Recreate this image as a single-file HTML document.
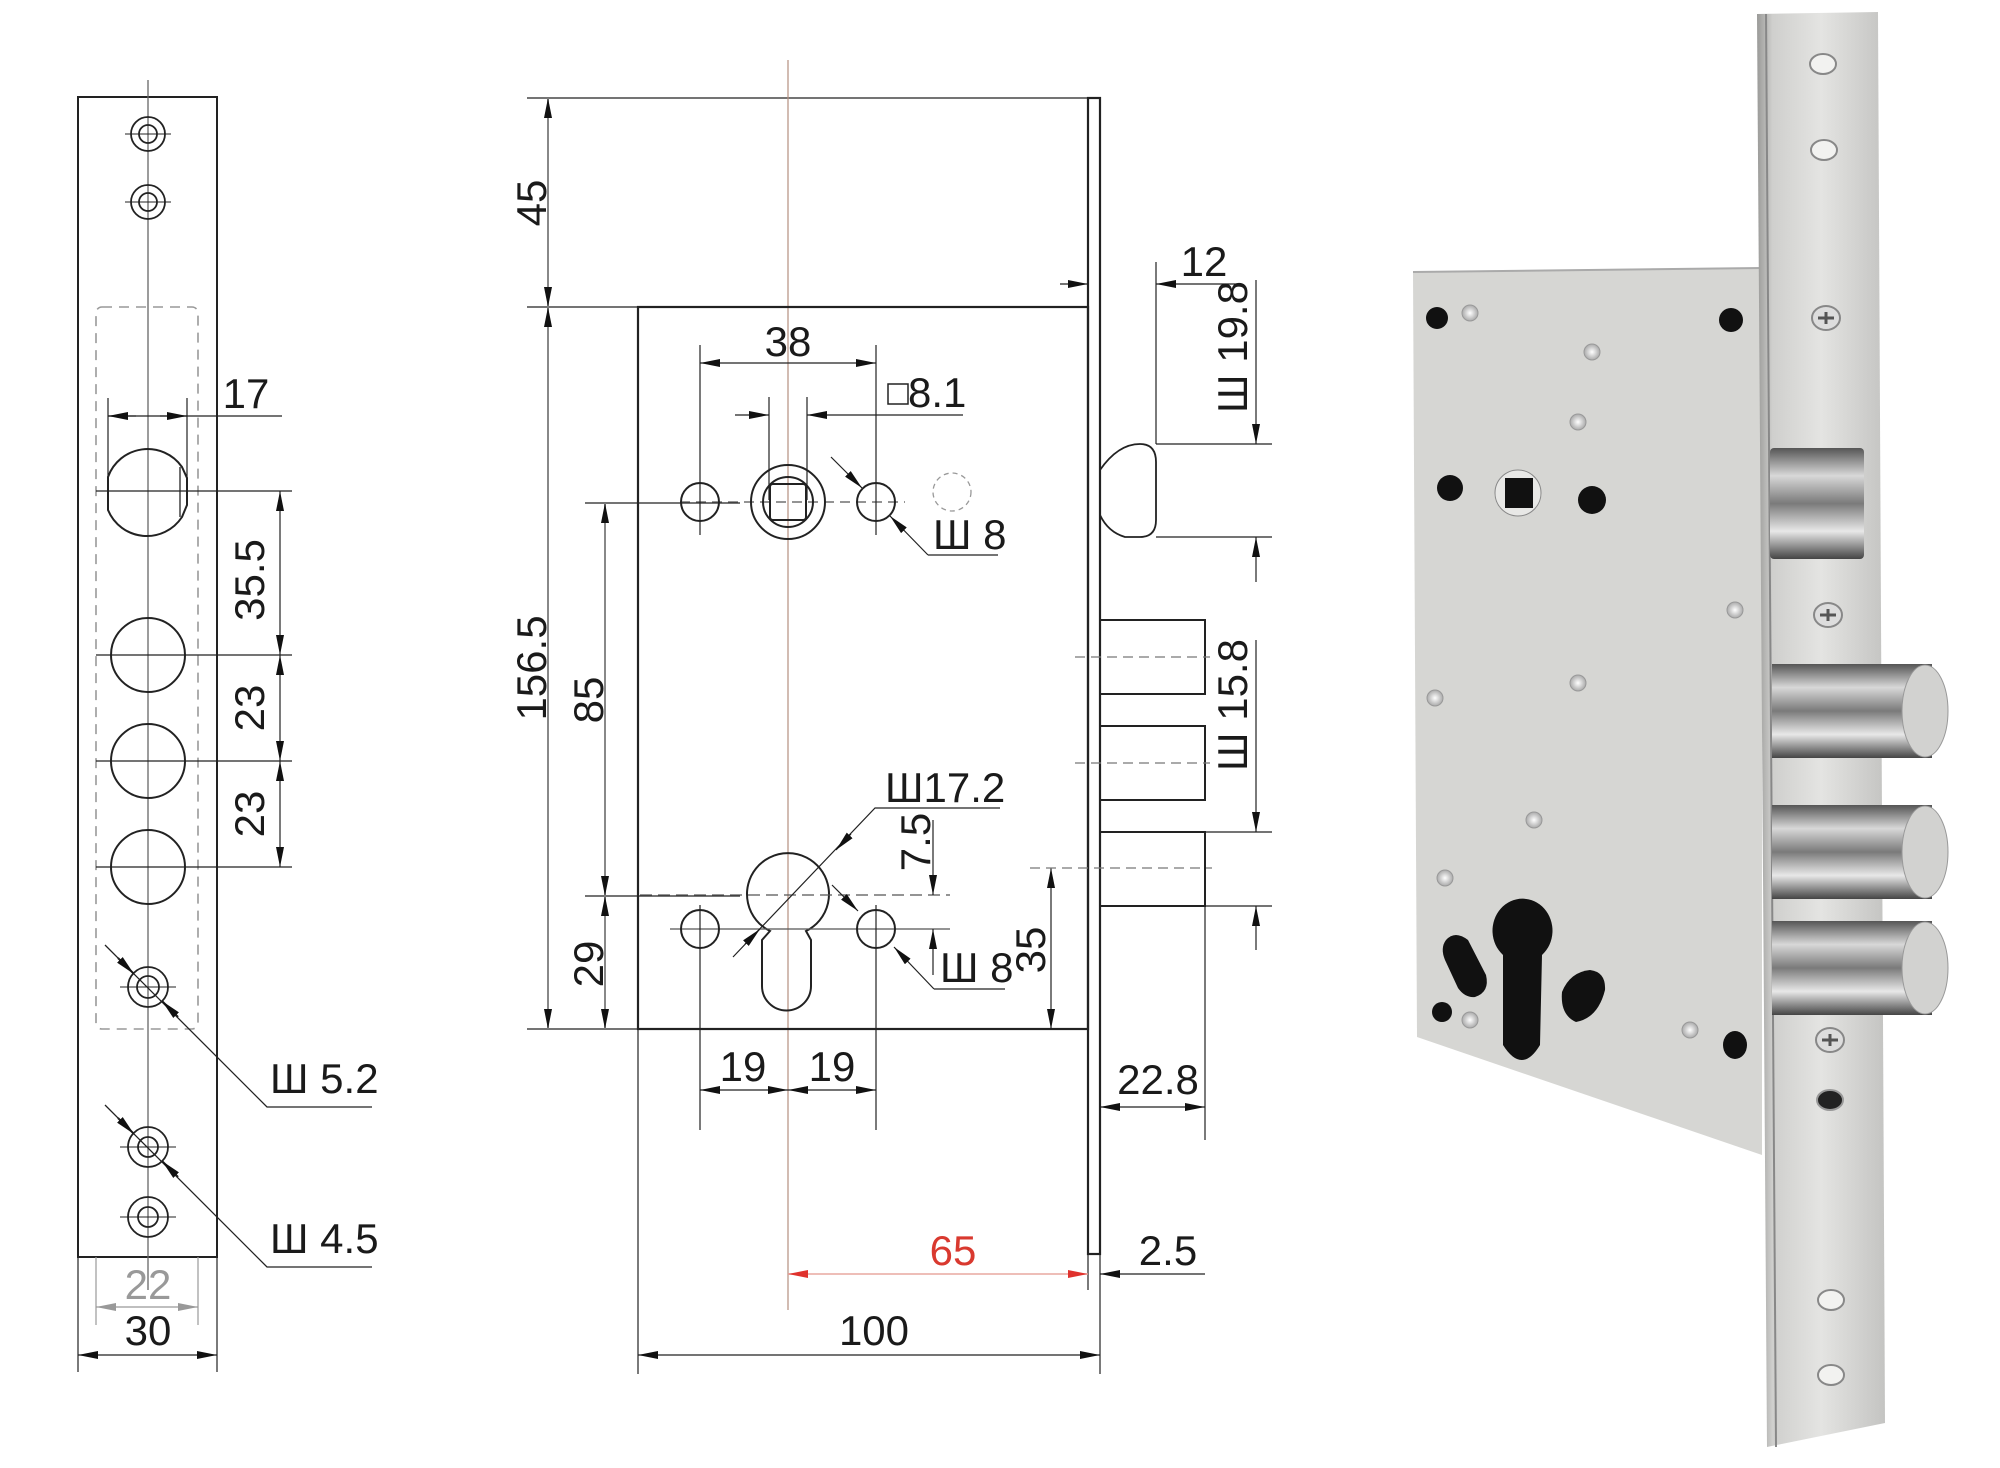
<!DOCTYPE html>
<html><head><meta charset="utf-8"><style>
html,body{margin:0;padding:0;background:#fff;}
svg{display:block;}
text{font-family:"Liberation Sans",sans-serif;font-size:42px;fill:#1a1a1a;}
</style></head><body>
<svg width="2000" height="1468" viewBox="0 0 2000 1468" xmlns="http://www.w3.org/2000/svg">
<defs>
<marker id="a" viewBox="0 0 20 8" refX="20" refY="4" markerWidth="20" markerHeight="8" markerUnits="userSpaceOnUse" orient="auto-start-reverse"><path d="M0,0L20,4L0,8z" fill="#111"/></marker>
<marker id="r" viewBox="0 0 20 8" refX="20" refY="4" markerWidth="20" markerHeight="8" markerUnits="userSpaceOnUse" orient="auto-start-reverse"><path d="M0,0L20,4L0,8z" fill="#e0322d"/></marker>
<marker id="g" viewBox="0 0 20 8" refX="20" refY="4" markerWidth="20" markerHeight="8" markerUnits="userSpaceOnUse" orient="auto-start-reverse"><path d="M0,0L20,4L0,8z" fill="#999"/></marker>
<linearGradient id="fp" x1="0" x2="1"><stop offset="0" stop-color="#9a9a98"/><stop offset="0.12" stop-color="#cfcfcd"/><stop offset="0.5" stop-color="#e4e4e2"/><stop offset="1" stop-color="#c4c4c2"/></linearGradient>
<linearGradient id="cyl" x1="0" y1="0" x2="0" y2="1"><stop offset="0" stop-color="#555"/><stop offset="0.25" stop-color="#d8d8d8"/><stop offset="0.5" stop-color="#7a7a7a"/><stop offset="0.75" stop-color="#e8e8e8"/><stop offset="1" stop-color="#444"/></linearGradient>
<radialGradient id="dot"><stop offset="0" stop-color="#fff"/><stop offset="1" stop-color="#aaa"/></radialGradient>
</defs>

<g stroke="#222" stroke-width="2" fill="none">
<!-- LEFT FACEPLATE -->
<rect x="78" y="97" width="139" height="1160"/>
<line x1="148" y1="80" x2="148" y2="1290" stroke="#666" stroke-width="1.3"/>
<rect x="96" y="307" width="102" height="722" rx="6" stroke="#999" stroke-dasharray="10,7" stroke-width="1.6"/>
<g stroke-width="1.8">
<circle cx="148" cy="134" r="17"/><circle cx="148" cy="134" r="9"/><line x1="125" y1="134" x2="171" y2="134" stroke-width="1"/>
<circle cx="148" cy="202" r="17"/><circle cx="148" cy="202" r="9"/><line x1="125" y1="202" x2="171" y2="202" stroke-width="1"/>
<circle cx="148" cy="987" r="20"/><circle cx="148" cy="987" r="11"/><line x1="120" y1="987" x2="176" y2="987" stroke-width="1"/>
<circle cx="148" cy="1147" r="20"/><circle cx="148" cy="1147" r="10"/><line x1="120" y1="1147" x2="176" y2="1147" stroke-width="1"/>
<circle cx="148" cy="1217" r="20"/><circle cx="148" cy="1217" r="10"/><line x1="120" y1="1217" x2="176" y2="1217" stroke-width="1"/>
</g>
<!-- latch -->
<path d="M108,477 A42,42 0 0 1 182,467 L187,478 L187,505 L182,517 A42,42 0 0 1 108,510 Z"/>
<line x1="180" y1="467" x2="180" y2="517" stroke-width="1.3"/>
<circle cx="148" cy="655" r="37"/><circle cx="148" cy="761" r="37"/><circle cx="148" cy="867" r="37"/>
<g stroke-width="1.2">
<line x1="96" y1="491" x2="292" y2="491"/><line x1="96" y1="655" x2="292" y2="655"/><line x1="96" y1="761" x2="292" y2="761"/><line x1="96" y1="867" x2="292" y2="867"/>
<line x1="108" y1="398" x2="108" y2="500"/><line x1="187" y1="398" x2="187" y2="500"/>
<line x1="108" y1="416" x2="282" y2="416"/>
</g>
<line x1="108" y1="416" x2="136" y2="416" marker-start="url(#a)" stroke-width="1.2"/>
<line x1="160" y1="416" x2="187" y2="416" marker-end="url(#a)" stroke-width="1.2"/>
<line x1="280" y1="491" x2="280" y2="655" marker-start="url(#a)" marker-end="url(#a)" stroke-width="1.2"/>
<line x1="280" y1="655" x2="280" y2="761" marker-start="url(#a)" marker-end="url(#a)" stroke-width="1.2"/>
<line x1="280" y1="761" x2="280" y2="867" marker-start="url(#a)" marker-end="url(#a)" stroke-width="1.2"/>
<!-- leaders -->
<polyline points="105,945 267,1107 372,1107" stroke-width="1.3"/>
<line x1="118" y1="958" x2="134" y2="974" marker-end="url(#a)"/>
<line x1="178" y1="1017" x2="162" y2="1001" marker-end="url(#a)"/>
<polyline points="105,1105 267,1267 372,1267" stroke-width="1.3"/>
<line x1="118" y1="1118" x2="134" y2="1134" marker-end="url(#a)"/>
<line x1="178" y1="1177" x2="162" y2="1161" marker-end="url(#a)"/>
<line x1="78" y1="1257" x2="78" y2="1372" stroke-width="1.2"/><line x1="217" y1="1257" x2="217" y2="1372" stroke-width="1.2"/>
<line x1="96" y1="1257" x2="96" y2="1325" stroke="#999" stroke-width="1.2"/><line x1="198" y1="1257" x2="198" y2="1325" stroke="#999" stroke-width="1.2"/>
<line x1="96" y1="1307" x2="198" y2="1307" stroke="#999" stroke-width="1.2" marker-start="url(#g)" marker-end="url(#g)"/>
<line x1="78" y1="1355" x2="217" y2="1355" stroke-width="1.2" marker-start="url(#a)" marker-end="url(#a)"/>

<!-- MIDDLE DRAWING -->
<g stroke-width="1.2">
<line x1="527" y1="98" x2="1088" y2="98"/>
<line x1="527" y1="307" x2="638" y2="307"/>
<line x1="527" y1="1029" x2="638" y2="1029"/>
<line x1="585" y1="503" x2="740" y2="503"/>
<line x1="585" y1="896" x2="740" y2="896"/>
</g>
<line x1="788" y1="60" x2="788" y2="1310" stroke="#b59080" stroke-width="1.2"/>
<rect x="638" y="307" width="450" height="722" stroke-width="2.2"/>
<rect x="1088" y="98" width="12" height="1156" stroke-width="2.2"/>
<line x1="548" y1="98" x2="548" y2="307" stroke="#888" marker-start="url(#a)" marker-end="url(#a)"/>
<line x1="548" y1="307" x2="548" y2="1029" stroke="#888" marker-start="url(#a)" marker-end="url(#a)"/>
<line x1="605" y1="503" x2="605" y2="896" stroke="#888" marker-start="url(#a)" marker-end="url(#a)"/>
<line x1="605" y1="896" x2="605" y2="1029" stroke="#888" marker-start="url(#a)" marker-end="url(#a)"/>
<!-- top row -->
<line x1="680" y1="502" x2="905" y2="502" stroke-dasharray="10,6" stroke-width="1.2" stroke="#555"/>
<circle cx="700" cy="502" r="19"/><circle cx="876" cy="502" r="19"/>
<circle cx="788" cy="502" r="37"/><circle cx="788" cy="502" r="25"/>
<rect x="770" y="484" width="36" height="36" rx="3"/>
<circle cx="952" cy="492" r="19" stroke="#999" stroke-dasharray="5,4" stroke-width="1.3"/>
<g stroke-width="1.2">
<line x1="700" y1="345" x2="700" y2="535"/><line x1="876" y1="345" x2="876" y2="535"/>
<line x1="769" y1="397" x2="769" y2="500"/><line x1="807" y1="397" x2="807" y2="500"/>
<line x1="735" y1="415" x2="769" y2="415" marker-end="url(#a)"/>
<line x1="963" y1="415" x2="807" y2="415" marker-end="url(#a)"/>
<line x1="700" y1="363" x2="876" y2="363" marker-start="url(#a)" marker-end="url(#a)"/>
<line x1="831" y1="457" x2="862" y2="488" marker-end="url(#a)"/>
<polyline points="928,555 998,555"/>
<line x1="928" y1="555" x2="890" y2="516" marker-end="url(#a)"/>
</g>
<rect x="888" y="384" width="20" height="20" stroke-width="1.5"/>
<!-- cylinder -->
<path d="M770,931 A41,41 0 1 1 806,931 L811,940 L811,986 A24.5,24.5 0 0 1 762,986 L762,940 Z"/>
<g stroke-width="1.2">
<line x1="640" y1="895" x2="950" y2="895" stroke-dasharray="12,6" stroke="#555"/>
<line x1="670" y1="929" x2="950" y2="929" stroke="#555"/>
<line x1="700" y1="905" x2="700" y2="1130"/><line x1="876" y1="905" x2="876" y2="1130"/>
</g>
<circle cx="700" cy="929" r="19"/><circle cx="876" cy="929" r="19"/>
<g stroke-width="1.2">
<polyline points="1000,808 875,808 733,957"/>
<line x1="745" y1="944" x2="760" y2="929" marker-end="url(#a)"/>
<line x1="832" y1="885" x2="858" y2="911" marker-end="url(#a)"/>
<polyline points="934,989 1005,989"/>
<line x1="934" y1="989" x2="894" y2="947" marker-end="url(#a)"/>
<line x1="851" y1="834" x2="836" y2="850" marker-end="url(#a)"/>
<line x1="933" y1="820" x2="933" y2="895" marker-end="url(#a)"/>
<line x1="933" y1="975" x2="933" y2="929" marker-end="url(#a)"/>
<line x1="1051" y1="868" x2="1051" y2="1029" marker-start="url(#a)" marker-end="url(#a)"/>
<line x1="700" y1="1090" x2="788" y2="1090" marker-start="url(#a)" marker-end="url(#a)"/>
<line x1="788" y1="1090" x2="876" y2="1090" marker-start="url(#a)" marker-end="url(#a)"/>
</g>
<!-- right parts -->
<path d="M1100,470 Q1118,444 1140,444 Q1156,444 1156,462 L1156,520 Q1156,537 1140,537 L1125,537 Q1108,532 1100,515" stroke-width="1.8"/>
<rect x="1100" y="620" width="105" height="74"/>
<rect x="1100" y="726" width="105" height="74"/>
<rect x="1100" y="832" width="105" height="74"/>
<g stroke-width="1.2" stroke="#777" stroke-dasharray="10,6">
<line x1="1075" y1="657" x2="1210" y2="657"/><line x1="1075" y1="763" x2="1210" y2="763"/><line x1="1030" y1="868" x2="1212" y2="868"/>
</g>
<g stroke-width="1.2">
<line x1="1156" y1="262" x2="1156" y2="444"/>
<line x1="1060" y1="284" x2="1088" y2="284" marker-end="url(#a)"/>
<line x1="1240" y1="284" x2="1156" y2="284" marker-end="url(#a)"/>
<line x1="1156" y1="444" x2="1272" y2="444"/><line x1="1156" y1="537" x2="1272" y2="537"/>
<line x1="1256" y1="280" x2="1256" y2="444" marker-end="url(#a)"/>
<line x1="1256" y1="582" x2="1256" y2="537" marker-end="url(#a)"/>
<line x1="1205" y1="832" x2="1272" y2="832"/><line x1="1205" y1="906" x2="1272" y2="906"/>
<line x1="1256" y1="640" x2="1256" y2="832" marker-end="url(#a)"/>
<line x1="1256" y1="950" x2="1256" y2="906" marker-end="url(#a)"/>
<line x1="1205" y1="906" x2="1205" y2="1140"/>
<line x1="1100" y1="1107" x2="1205" y2="1107" marker-start="url(#a)" marker-end="url(#a)"/>
<line x1="1100" y1="1254" x2="1100" y2="1374"/>
<line x1="1088" y1="1254" x2="1088" y2="1290"/>
<line x1="638" y1="1029" x2="638" y2="1374"/>
<line x1="1205" y1="1274" x2="1100" y2="1274" marker-end="url(#a)"/>
<line x1="638" y1="1355" x2="1100" y2="1355" marker-start="url(#a)" marker-end="url(#a)"/>
</g>
<line x1="788" y1="1274" x2="1088" y2="1274" stroke="#e8a8a0" stroke-width="1.4" marker-start="url(#r)" marker-end="url(#r)"/>
</g>

<!-- TEXT -->
<text x="246" y="408" text-anchor="middle">17</text>
<text transform="translate(264,580) rotate(-90)" text-anchor="middle">35.5</text>
<text transform="translate(264,708) rotate(-90)" text-anchor="middle">23</text>
<text transform="translate(264,814) rotate(-90)" text-anchor="middle">23</text>
<text x="270" y="1093">Ш 5.2</text>
<text x="270" y="1253">Ш 4.5</text>
<text x="148" y="1299" text-anchor="middle" style="fill:#999">22</text>
<text x="148" y="1345" text-anchor="middle">30</text>
<text transform="translate(546,203) rotate(-90)" text-anchor="middle">45</text>
<text transform="translate(546,668) rotate(-90)" text-anchor="middle">156.5</text>
<text transform="translate(603,700) rotate(-90)" text-anchor="middle">85</text>
<text transform="translate(603,964) rotate(-90)" text-anchor="middle">29</text>
<text x="788" y="356" text-anchor="middle">38</text>
<text x="908" y="407">8.1</text>
<text x="933" y="549">Ш 8</text>
<text x="885" y="802">Ш17.2</text>
<text transform="translate(930,842) rotate(-90)" text-anchor="middle">7.5</text>
<text x="940" y="982">Ш 8</text>
<text transform="translate(1045,950) rotate(-90)" text-anchor="middle">35</text>
<text x="743" y="1081" text-anchor="middle">19</text>
<text x="832" y="1081" text-anchor="middle">19</text>
<text x="1158" y="1094" text-anchor="middle">22.8</text>
<text x="953" y="1265" text-anchor="middle" style="fill:#d9392f">65</text>
<text x="1168" y="1265" text-anchor="middle">2.5</text>
<text x="874" y="1345" text-anchor="middle">100</text>
<text x="1204" y="276" text-anchor="middle">12</text>
<text transform="translate(1247,347) rotate(-90)" text-anchor="middle">Ш 19.8</text>
<text transform="translate(1247,705) rotate(-90)" text-anchor="middle">Ш 15.8</text>

<!-- PHOTO -->
<polygon points="1413,272 1762,268 1762,1155 1417,1037" fill="#d6d6d3"/>
<line x1="1413" y1="272" x2="1762" y2="268" stroke="#aaa" stroke-width="2"/>
<g fill="#111">
<circle cx="1437" cy="318" r="11"/><circle cx="1731" cy="320" r="12"/>
<circle cx="1450" cy="488" r="13"/><circle cx="1592" cy="500" r="14"/>
<circle cx="1442" cy="1012" r="10"/><ellipse cx="1735" cy="1045" rx="12" ry="14"/>
<path d="M1503,955 A30,32 0 1 1 1542,955 L1540,1045 Q1522,1075 1503,1045 Z"/>
<path d="M1446,940 Q1455,930 1468,940 L1486,975 Q1490,992 1475,997 Q1465,998 1458,988 L1445,960 Q1440,948 1446,940 Z"/>
<path d="M1562,992 Q1570,972 1590,970 Q1606,972 1605,990 Q1598,1018 1576,1022 Q1560,1015 1562,992 Z"/>
</g>
<circle cx="1518" cy="493" r="23" fill="#e8e8e6" stroke="#888"/>
<rect x="1505" y="478" width="28" height="30" fill="#111"/>
<g fill="url(#dot)" stroke="#999" stroke-width="1">
<circle cx="1470" cy="313" r="8"/><circle cx="1592" cy="352" r="8"/><circle cx="1578" cy="422" r="8"/>
<circle cx="1735" cy="610" r="8"/><circle cx="1578" cy="683" r="8"/><circle cx="1435" cy="698" r="8"/>
<circle cx="1534" cy="820" r="8"/><circle cx="1445" cy="878" r="8"/><circle cx="1470" cy="1020" r="8"/><circle cx="1690" cy="1030" r="8"/>
</g>
<polygon points="1757,14 1878,12 1885,1423 1767,1447" fill="url(#fp)"/>
<line x1="1766" y1="14" x2="1776" y2="1447" stroke="#888" stroke-width="2"/>
<g fill="#f2f2f0" stroke="#888" stroke-width="2">
<ellipse cx="1823" cy="64" rx="13" ry="10"/><ellipse cx="1824" cy="150" rx="13" ry="10"/>
<ellipse cx="1831" cy="1300" rx="13" ry="10"/><ellipse cx="1831" cy="1375" rx="13" ry="10"/>
</g>
<ellipse cx="1830" cy="1100" rx="13" ry="10" fill="#222" stroke="#999" stroke-width="2"/>
<g fill="#ddd" stroke="#888" stroke-width="2">
<ellipse cx="1826" cy="318" rx="14" ry="12"/><ellipse cx="1828" cy="615" rx="14" ry="12"/><ellipse cx="1830" cy="1040" rx="14" ry="12"/>
</g>
<g stroke="#555" stroke-width="3"><path d="M1818,318h16M1826,312v12M1820,615h16M1828,609v12M1822,1040h16M1830,1034v12"/></g>
<!-- deadlatch -->
<rect x="1770" y="448" width="94" height="111" fill="url(#cyl)" rx="4"/>
<!-- bolts -->
<g>
<rect x="1772" y="664" width="160" height="94" fill="url(#cyl)"/><ellipse cx="1925" cy="711" rx="23" ry="46" fill="#d2d2d0" stroke="#999"/>
<rect x="1772" y="805" width="160" height="94" fill="url(#cyl)"/><ellipse cx="1925" cy="852" rx="23" ry="46" fill="#d2d2d0" stroke="#999"/>
<rect x="1772" y="921" width="160" height="94" fill="url(#cyl)"/><ellipse cx="1925" cy="968" rx="23" ry="46" fill="#d2d2d0" stroke="#999"/>
</g>
</svg>
</body></html>
